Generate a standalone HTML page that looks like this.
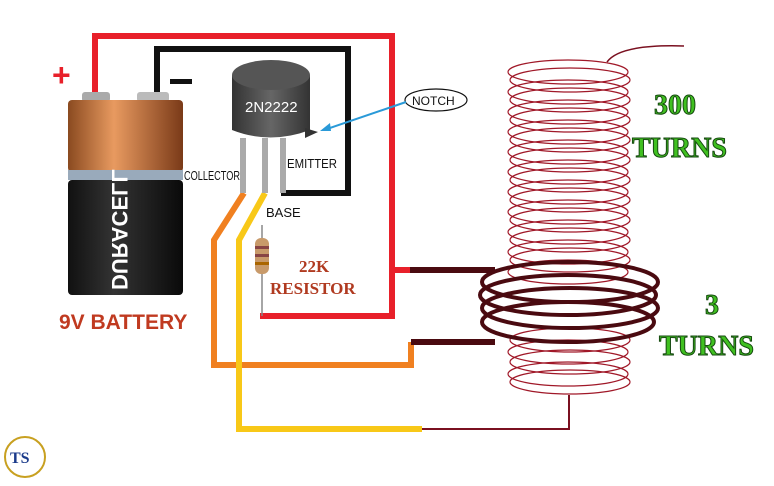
<!DOCTYPE html>
<html><head><style>
body{margin:0;background:#fff;width:774px;height:486px;overflow:hidden}
svg{display:block}
.s{font-family:"Liberation Sans",sans-serif}
.r{font-family:"Liberation Serif",serif}
</style></head><body>
<svg width="774" height="486" viewBox="0 0 774 486">
<defs>
<linearGradient id="cu" x1="0" x2="1"><stop offset="0" stop-color="#8a4a20"/><stop offset=".4" stop-color="#e89a60"/><stop offset="1" stop-color="#7a3a18"/></linearGradient>
<linearGradient id="bk" x1="0" x2="1"><stop offset="0" stop-color="#111"/><stop offset=".4" stop-color="#333"/><stop offset="1" stop-color="#0a0a0a"/></linearGradient>
<linearGradient id="tr" x1="0" x2="1"><stop offset="0" stop-color="#333"/><stop offset=".5" stop-color="#666"/><stop offset="1" stop-color="#333"/></linearGradient>
</defs>
<g fill="none" stroke-linejoin="miter">
<polyline points="95,97 95,36 392,36 392,270 410,270" stroke="#e8202a" stroke-width="6"/>
<polyline points="392,270 392,316 260,316" stroke="#e8202a" stroke-width="6"/>
<polyline points="410,270 495,270" stroke="#4a0a10" stroke-width="6"/>
<polyline points="157,97 157,49 348,49 348,193 281,193" stroke="#111" stroke-width="6"/>
<polyline points="244,193 214,240 214,365 411,365 411,342" stroke="#f08020" stroke-width="6"/>
<polyline points="411,342 495,342" stroke="#4a0a10" stroke-width="6"/>
<polyline points="265,193 239,240 239,429 422,429" stroke="#f8c818" stroke-width="6"/>
<polyline points="422,429 569,429 569,395" stroke="#7a1020" stroke-width="2"/>
<path d="M607,62 Q620,44 684,46" stroke="#7a1020" stroke-width="1.5"/>
</g>
<g fill="none" stroke="#a01828" stroke-width="1.2">
<ellipse cx="568" cy="72" rx="60" ry="12"/><ellipse cx="570" cy="80" rx="60" ry="12"/>
<ellipse cx="568" cy="92" rx="60" ry="12"/><ellipse cx="570" cy="100" rx="60" ry="12"/>
<ellipse cx="568" cy="112" rx="60" ry="12"/><ellipse cx="570" cy="120" rx="60" ry="12"/>
<ellipse cx="568" cy="132" rx="60" ry="12"/><ellipse cx="570" cy="140" rx="60" ry="12"/>
<ellipse cx="568" cy="152" rx="60" ry="12"/><ellipse cx="570" cy="160" rx="60" ry="12"/>
<ellipse cx="568" cy="172" rx="60" ry="12"/><ellipse cx="570" cy="180" rx="60" ry="12"/>
<ellipse cx="568" cy="192" rx="60" ry="12"/><ellipse cx="570" cy="200" rx="60" ry="12"/>
<ellipse cx="568" cy="212" rx="60" ry="12"/><ellipse cx="570" cy="220" rx="60" ry="12"/>
<ellipse cx="568" cy="232" rx="60" ry="12"/><ellipse cx="570" cy="240" rx="60" ry="12"/>
<ellipse cx="568" cy="252" rx="60" ry="12"/><ellipse cx="570" cy="260" rx="60" ry="12"/>
<ellipse cx="568" cy="272" rx="60" ry="12"/><ellipse cx="570" cy="340" rx="60" ry="12"/>
<ellipse cx="568" cy="352" rx="60" ry="12"/><ellipse cx="570" cy="362" rx="60" ry="12"/>
<ellipse cx="568" cy="374" rx="60" ry="12"/><ellipse cx="570" cy="382" rx="60" ry="12"/>
</g>
<g fill="none" stroke="#4a0a10" stroke-width="4">
<ellipse cx="570" cy="282" rx="88" ry="20"/><ellipse cx="568" cy="295" rx="88" ry="20"/>
<ellipse cx="570" cy="308" rx="88" ry="20"/><ellipse cx="568" cy="322" rx="86" ry="20"/>
</g>
<rect x="82" y="92" width="28" height="10" rx="3" fill="#aaa"/>
<rect x="137" y="92" width="32" height="10" rx="3" fill="#bbb"/>
<rect x="68" y="100" width="115" height="72" rx="4" fill="url(#cu)"/>
<rect x="68" y="170" width="115" height="10" fill="#9ab"/>
<rect x="68" y="180" width="115" height="115" rx="4" fill="url(#bk)"/>
<text class="s" transform="translate(112,236) rotate(90) scale(-1,1)" x="-54" y="0" font-size="22" font-weight="bold" fill="#fff">DURACELL</text>
<text class="s" x="59" y="329" font-size="21" font-weight="bold" fill="#c03a20">9V BATTERY</text>
<text class="s" x="52" y="86" font-size="32" font-weight="bold" fill="#e8202a">+</text>
<rect x="170" y="79" width="22" height="5" fill="#111"/>
<path d="M232,75 L232,130 Q270,145 310,130 L310,75 Z" fill="url(#tr)"/>
<ellipse cx="271" cy="75" rx="39" ry="15" fill="#555"/>
<path d="M305,128 L318,132 L305,138 Z" fill="#333"/>
<rect x="240" y="138" width="6" height="55" fill="#aaa"/>
<rect x="262" y="138" width="6" height="55" fill="#aaa"/>
<rect x="280" y="138" width="6" height="55" fill="#aaa"/>
<text class="s" x="245" y="112" font-size="15" fill="#fff">2N2222</text>
<text class="s" x="184" y="180" font-size="13" fill="#111" textLength="56" lengthAdjust="spacingAndGlyphs">COLLECTOR</text>
<text class="s" x="287" y="168" font-size="13" fill="#111" textLength="50" lengthAdjust="spacingAndGlyphs">EMITTER</text>
<text class="s" x="266" y="217" font-size="13" fill="#111">BASE</text>
<line x1="262" y1="225" x2="262" y2="316" stroke="#888" stroke-width="1.5"/>
<rect x="255" y="238" width="14" height="36" rx="6" fill="#c89a6a"/>
<rect x="255" y="246" width="14" height="3" fill="#844"/><rect x="255" y="254" width="14" height="3" fill="#844"/><rect x="255" y="262" width="14" height="3" fill="#a60"/>
<text class="r" x="299" y="272" font-size="17" font-weight="bold" fill="#b03a20">22K</text>
<text class="r" x="270" y="294" font-size="17" font-weight="bold" fill="#b03a20">RESISTOR</text>
<ellipse cx="436" cy="100" rx="31" ry="11" fill="#fff" stroke="#111" stroke-width="1.2"/>
<text class="s" x="412" y="105" font-size="12" fill="#111">NOTCH</text>
<line x1="406" y1="102" x2="324" y2="130" stroke="#2a9ad8" stroke-width="2"/>
<path d="M320,131 L330,123 L331,131 Z" fill="#2a9ad8"/>
<g class="r" font-weight="bold" fill="#40c020" stroke="#164a10" stroke-width="1">
<text class="r" x="654" y="114" font-size="28">300</text>
<text class="r" x="632" y="157" font-size="28">TURNS</text>
<text class="r" x="705" y="314" font-size="28">3</text>
<text class="r" x="659" y="355" font-size="28">TURNS</text>
</g>
<circle cx="25" cy="457" r="20" fill="#fff" stroke="#c8a020" stroke-width="2"/>
<text class="r" x="10" y="463" font-size="16" font-weight="bold" fill="#1a3a8a">TS</text>
</svg>
</body></html>
